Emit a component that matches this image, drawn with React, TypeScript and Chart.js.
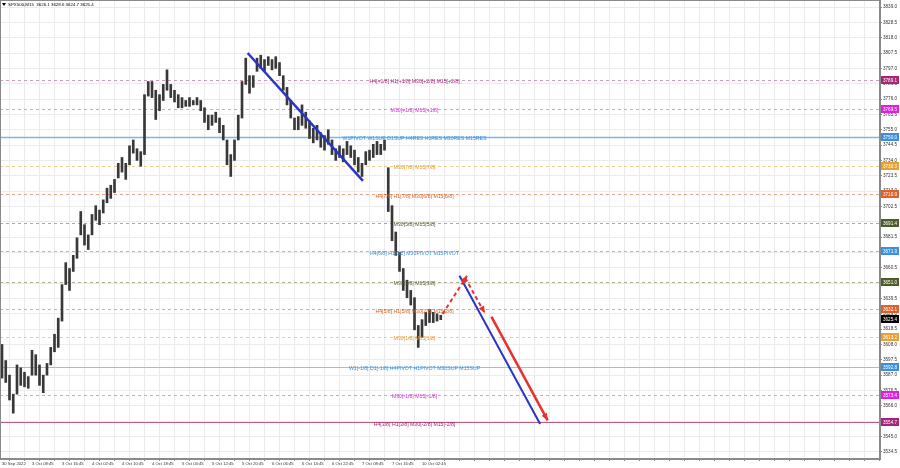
import React, { useEffect, useRef } from 'react';
import { Chart, registerables } from 'chart.js';
Chart.register(...registerables);

// ---------- data ----------
const chartTitle = 'SPX500,M15  3626.1 3628.6 3624.7 3625.4';
const lastPrice = 3625.4;

const timeLabels = ['30 Sep 2022', '3 Oct 08:45', '3 Oct 16:45', '4 Oct 02:45', '4 Oct 10:45', '4 Oct 18:45', '5 Oct 04:45', '5 Oct 12:45', '5 Oct 20:45', '6 Oct 06:45', '6 Oct 14:45', '6 Oct 22:45', '7 Oct 08:45', '7 Oct 16:45', '10 Oct 02:45'];
const timeLabelBars = [0, 32, 64, 96, 128, 160, 192, 224, 256, 288, 320, 352, 384, 416, 448];

const priceTickLabels = ['3839.0', '3828.5', '3818.0', '3807.5', '3797.0', '3786.5', '3776.0', '3765.5', '3755.0', '3744.5', '3734.0', '3723.5', '3713.0', '3702.5', '3692.0', '3681.5', '3671.0', '3660.5', '3650.0', '3639.5', '3629.0', '3618.5', '3608.0', '3597.5', '3587.0', '3576.5', '3566.0', '3555.5', '3545.0', '3534.5'];

const barIndex = [0, 4, 8, 12, 16, 20, 24, 28, 32, 36, 40, 44, 48, 52, 56, 60, 64, 68, 72, 76, 80, 84, 88, 92, 96, 100, 104, 108, 112, 116, 120, 124, 128, 132, 136, 140, 144, 148, 152, 156, 160, 164, 168, 172, 176, 180, 184, 188, 192, 196, 200, 204, 208, 212, 216, 220, 224, 228, 232, 236, 240, 244, 248, 252, 256, 260, 264, 268, 272, 276, 280, 284, 288, 292, 296, 300, 304, 308, 312, 316, 320, 324, 328, 332, 336, 340, 344, 348, 352, 356, 360, 364, 368, 372, 376, 380, 384, 388, 392, 396, 400, 404, 408, 412, 416, 420, 424, 428, 432, 436, 440, 444, 448, 452, 456, 460, 464, 468];

const barLows = [3585, 3582, 3570, 3561, 3574, 3580, 3579, 3578, 3587, 3587, 3580, 3575, 3587, 3594, 3603, 3606, 3624, 3649, 3645, 3658, 3667, 3683, 3676, 3673, 3683, 3693, 3690, 3698, 3705, 3708, 3712, 3722, 3726, 3721, 3731, 3739, 3734, 3730, 3738, 3778, 3777, 3762, 3768, 3775, 3782, 3777, 3774, 3770, 3770, 3771, 3771, 3772, 3772, 3768, 3760, 3755, 3758, 3760, 3753, 3748, 3731, 3723, 3734, 3748, 3763, 3786, 3780, 3784, 3795, 3797, 3795, 3799, 3796, 3797, 3792, 3782, 3772, 3763, 3755, 3755, 3758, 3756, 3749, 3746, 3748, 3743, 3741, 3745, 3738, 3734, 3736, 3733, 3738, 3736, 3731, 3726, 3723, 3731, 3734, 3736, 3738, 3738, 3741, 3699, 3679, 3669, 3658, 3645, 3640, 3635, 3618, 3606, 3613, 3621, 3623, 3623, 3624, 3625];
const barHighs = [3608, 3597, 3587, 3574, 3594, 3592, 3589, 3586, 3604, 3601, 3594, 3587, 3595, 3606, 3615, 3626, 3649, 3664, 3660, 3669, 3681, 3699, 3690, 3683, 3697, 3703, 3700, 3707, 3715, 3717, 3721, 3732, 3736, 3732, 3744, 3748, 3742, 3740, 3779, 3788, 3788, 3782, 3779, 3786, 3796, 3786, 3782, 3779, 3777, 3775, 3777, 3775, 3777, 3775, 3770, 3765, 3765, 3767, 3763, 3758, 3748, 3738, 3748, 3765, 3788, 3804, 3792, 3792, 3804, 3806, 3803, 3805, 3803, 3805, 3801, 3792, 3784, 3775, 3763, 3764, 3772, 3767, 3761, 3756, 3758, 3753, 3751, 3755, 3748, 3742, 3744, 3742, 3747, 3744, 3741, 3736, 3732, 3740, 3741, 3745, 3747, 3745, 3748, 3729, 3703, 3685, 3671, 3660, 3652, 3645, 3640, 3621, 3625, 3630, 3632, 3630, 3629, 3628];

const levelPrices = [3789.1, 3769.5, 3750.0, 3730.3, 3710.9, 3691.4, 3671.9, 3651.0, 3632.1, 3613.2, 3592.8, 3573.4, 3554.7];
const levelNames = [
  'H4[+1/8] H1[+1/8] M30[+2/8] M15[+2/8]',
  'M30[+1/8] M15[+1/8]',
  'W1PIVOT W1SUP D1SUP H4RES H1RES M30RES M15RES',
  'M30[7/8] M15[7/8]',
  'H4[7/8] H1[7/8] M30[6/8] M15[6/8]',
  'M30[5/8] M15[5/8]',
  'H4[6/8] H1[6/8] M30PIVOT M15PIVOT',
  'M30[3/8] M15[3/8]',
  'H4[5/8] H1[5/8] M30[2/8] M15[2/8]',
  'M30[1/8] M15[1/8]',
  'W1[-1/8] D1[-1/8] H4PIVOT H1PIVOT M30SUP M15SUP',
  'M30[-1/8] M15[-1/8]',
  'H4[3/8] H1[3/8] M30[-2/8] M15[-2/8]',
];
const levelLabelBar = 440;

// drawn trend / projection lines (bar index, price)
const trendDown = [{ x: 262, y: 3807.5 }, { x: 385, y: 3720 }];
const projUpDashed = [{ x: 470, y: 3628.9 }, { x: 496, y: 3655 }];
const projDownDashed = [{ x: 494, y: 3653.5 }, { x: 515, y: 3629.5 }];
const projBlue = [{ x: 488, y: 3655 }, { x: 574, y: 3553.5 }];
const projRed = [{ x: 522, y: 3627 }, { x: 582, y: 3556 }];

// ---------- styles ----------
const levelTextColors = ['#a02a78', '#d030d0', '#3a8fd8', '#e39b2e', '#d6622c', '#56632e', '#3a8fd8', '#56632e', '#d6622c', '#e39b2e', '#3a8fd8', '#d030d0', '#a02a78'];
const levelLineColors = ['rgba(170,90,140,0.6)', 'rgba(210,80,210,0.6)', '#79b9ea', 'rgba(225,170,80,0.6)', 'rgba(214,110,60,0.6)', 'rgba(110,120,70,0.6)', 'rgba(80,150,220,0.6)', 'rgba(110,120,70,0.6)', 'rgba(214,110,60,0.6)', 'rgba(225,170,80,0.6)', '#8fc5ec', 'rgba(210,80,210,0.6)', '#c2587e'];
const levelSolid = [false, false, true, false, false, false, false, false, false, false, true, false, true];
const levelWidths = [1, 1, 1.5, 1, 1, 1, 1, 1, 1, 1, 1, 1, 1];
const boxColors = ['#a8237a', '#e020e0', '#3a8fe0', '#eaa030', '#e0602a', '#4e5c2a', '#3a8fe0', '#4e5c2a', '#e0602a', '#eaa030', '#3a8fe0', '#e020e0', '#a8237a'];
const arrowDatasets = [2, 3, 5];
const FONT = '"Liberation Sans", Arial, sans-serif';

const decor = {
  id: 'decor',
  beforeDatasetsDraw(chart: any) {
    const { ctx, chartArea: a, scales } = chart;
    const y = scales.y;
    ctx.save();
    ctx.beginPath();
    ctx.rect(a.left, a.top, a.right - a.left, a.bottom - a.top);
    ctx.clip();
    levelPrices.forEach((p, i) => {
      const py = Math.round(y.getPixelForValue(p)) + 0.5;
      ctx.strokeStyle = levelLineColors[i];
      ctx.lineWidth = levelWidths[i];
      ctx.setLineDash(levelSolid[i] ? [] : [3, 3]);
      ctx.beginPath();
      ctx.moveTo(a.left, py);
      ctx.lineTo(a.right, py);
      ctx.stroke();
    });
    ctx.restore();
  },
  afterDatasetsDraw(chart: any) {
    const { ctx, scales } = chart;
    const x = scales.x, y = scales.y;
    ctx.save();
    arrowDatasets.forEach((di) => {
      const meta = chart.getDatasetMeta(di);
      const pts = meta.data;
      const p1 = pts[pts.length - 2], p2 = pts[pts.length - 1];
      const ang = Math.atan2(p2.y - p1.y, p2.x - p1.x);
      const L = 7, W = 3;
      ctx.fillStyle = chart.data.datasets[di].borderColor;
      ctx.beginPath();
      ctx.moveTo(p2.x, p2.y);
      ctx.lineTo(p2.x - L * Math.cos(ang) + W * Math.sin(ang), p2.y - L * Math.sin(ang) - W * Math.cos(ang));
      ctx.lineTo(p2.x - L * Math.cos(ang) - W * Math.sin(ang), p2.y - L * Math.sin(ang) + W * Math.cos(ang));
      ctx.closePath();
      ctx.fill();
    });
    ctx.font = `5.2px ${FONT}`;
    ctx.textAlign = 'center';
    ctx.textBaseline = 'middle';
    const cx = x.getPixelForValue(levelLabelBar);
    levelPrices.forEach((p, i) => {
      ctx.fillStyle = levelTextColors[i];
      ctx.fillText(levelNames[i], cx, y.getPixelForValue(p) + 2);
    });
    ctx.restore();
  },
  afterDraw(chart: any) {
    const { ctx, chartArea: a, scales, width } = chart;
    const y = scales.y;
    ctx.save();
    ctx.strokeStyle = '#8a8a8a';
    ctx.lineWidth = 1;
    ctx.strokeRect(a.left + 0.5, a.top + 0.5, a.right - a.left - 1, a.bottom - a.top - 1);
    ctx.font = `4.6px ${FONT}`;
    ctx.textBaseline = 'middle';
    ctx.textAlign = 'left';
    const box = (p: number, col: string) => {
      const py = Math.round(y.getPixelForValue(p));
      ctx.fillStyle = col;
      ctx.fillRect(a.right + 1, py - 4, width - a.right - 2, 8);
      ctx.fillStyle = '#ffffff';
      ctx.fillText(p.toFixed(1), a.right + 3, py + 0.5);
    };
    levelPrices.forEach((p, i) => box(p, boxColors[i]));
    box(lastPrice, '#000000');
    ctx.fillStyle = '#000000';
    ctx.beginPath();
    ctx.moveTo(a.left + 2, a.top + 3);
    ctx.lineTo(a.left + 6, a.top + 3);
    ctx.lineTo(a.left + 4, a.top + 6);
    ctx.closePath();
    ctx.fill();
    ctx.font = `4.4px ${FONT}`;
    ctx.fillText(chartTitle, a.left + 8, a.top + 4.5);
    ctx.restore();
  },
};

export default function App() {
  const ref = useRef<HTMLCanvasElement | null>(null);
  useEffect(() => {
    document.body.style.margin = '0';
    const canvas = ref.current!;
    const gridBars: number[] = [];
    for (let b = 0; b <= 928; b += 16) gridBars.push(b);
    const priceTicks = priceTickLabels.map((s) => parseFloat(s));
    const chart = new Chart(canvas, {
      type: 'bar',
      data: {
        datasets: [
          {
            type: 'bar',
            data: barIndex.map((b, i) => ({ x: b, y: [barLows[i], barHighs[i]] })) as any,
            backgroundColor: '#383838',
            barThickness: 2,
            grouped: false,
            order: 5,
          } as any,
          { type: 'line', data: trendDown as any, borderColor: '#2a35c8', borderWidth: 2.5, pointRadius: 0, order: 1 },
          { type: 'line', data: projUpDashed as any, borderColor: '#e83030', borderWidth: 2, borderDash: [4, 3], pointRadius: 0, order: 1 },
          { type: 'line', data: projDownDashed as any, borderColor: '#e83030', borderWidth: 2, borderDash: [4, 3], pointRadius: 0, order: 1 },
          { type: 'line', data: projBlue as any, borderColor: '#2a35c8', borderWidth: 2, pointRadius: 0, order: 1 },
          { type: 'line', data: projRed as any, borderColor: '#e83030', borderWidth: 2.5, pointRadius: 0, order: 1 },
        ],
      },
      options: {
        animation: false,
        responsive: false,
        devicePixelRatio: 1,
        layout: { padding: 0 },
        plugins: { legend: { display: false }, tooltip: { enabled: false }, title: { display: false } },
        scales: {
          x: {
            type: 'linear',
            min: -2.13,
            max: 936.5,
            offset: false,
            grid: { color: '#ebebeb', drawTicks: true, tickLength: 2, tickColor: '#8a8a8a' },
            border: { color: '#8a8a8a' },
            afterBuildTicks: (s: any) => { s.ticks = gridBars.map((v) => ({ value: v })); },
            afterFit: (s: any) => { s.height = 9; s.paddingLeft = 0; s.paddingRight = 0; },
            ticks: {
              autoSkip: false,
              maxRotation: 0,
              minRotation: 0,
              align: 'start',
              padding: 0,
              color: '#333333',
              font: { size: 4.2, family: FONT },
              callback: (v: any) => {
                const idx = timeLabelBars.indexOf(Number(v));
                return idx >= 0 ? timeLabels[idx] : '';
              },
            },
          },
          y: {
            type: 'linear',
            position: 'right',
            min: 3529.6,
            max: 3843.8,
            grid: { color: '#ebebeb', drawTicks: true, tickLength: 2, tickColor: '#8a8a8a' },
            border: { color: '#8a8a8a' },
            afterBuildTicks: (s: any) => { s.ticks = priceTicks.map((v) => ({ value: v })); },
            afterFit: (s: any) => { s.width = 20; s.paddingTop = 0; s.paddingBottom = 0; },
            ticks: {
              autoSkip: false,
              padding: 1,
              color: '#333333',
              font: { size: 4.6, family: FONT },
              callback: (v: any) => {
                const idx = priceTicks.indexOf(Number(v));
                return idx >= 0 ? priceTickLabels[idx] : '';
              },
            },
          },
        },
      } as any,
      plugins: [decor],
    });
    return () => chart.destroy();
  }, []);
  return (
    <div style={{ width: 900, height: 468, background: '#ffffff' }}>
      <canvas ref={ref} width={900} height={468} style={{ display: 'block', width: 900, height: 468 }} />
    </div>
  );
}
